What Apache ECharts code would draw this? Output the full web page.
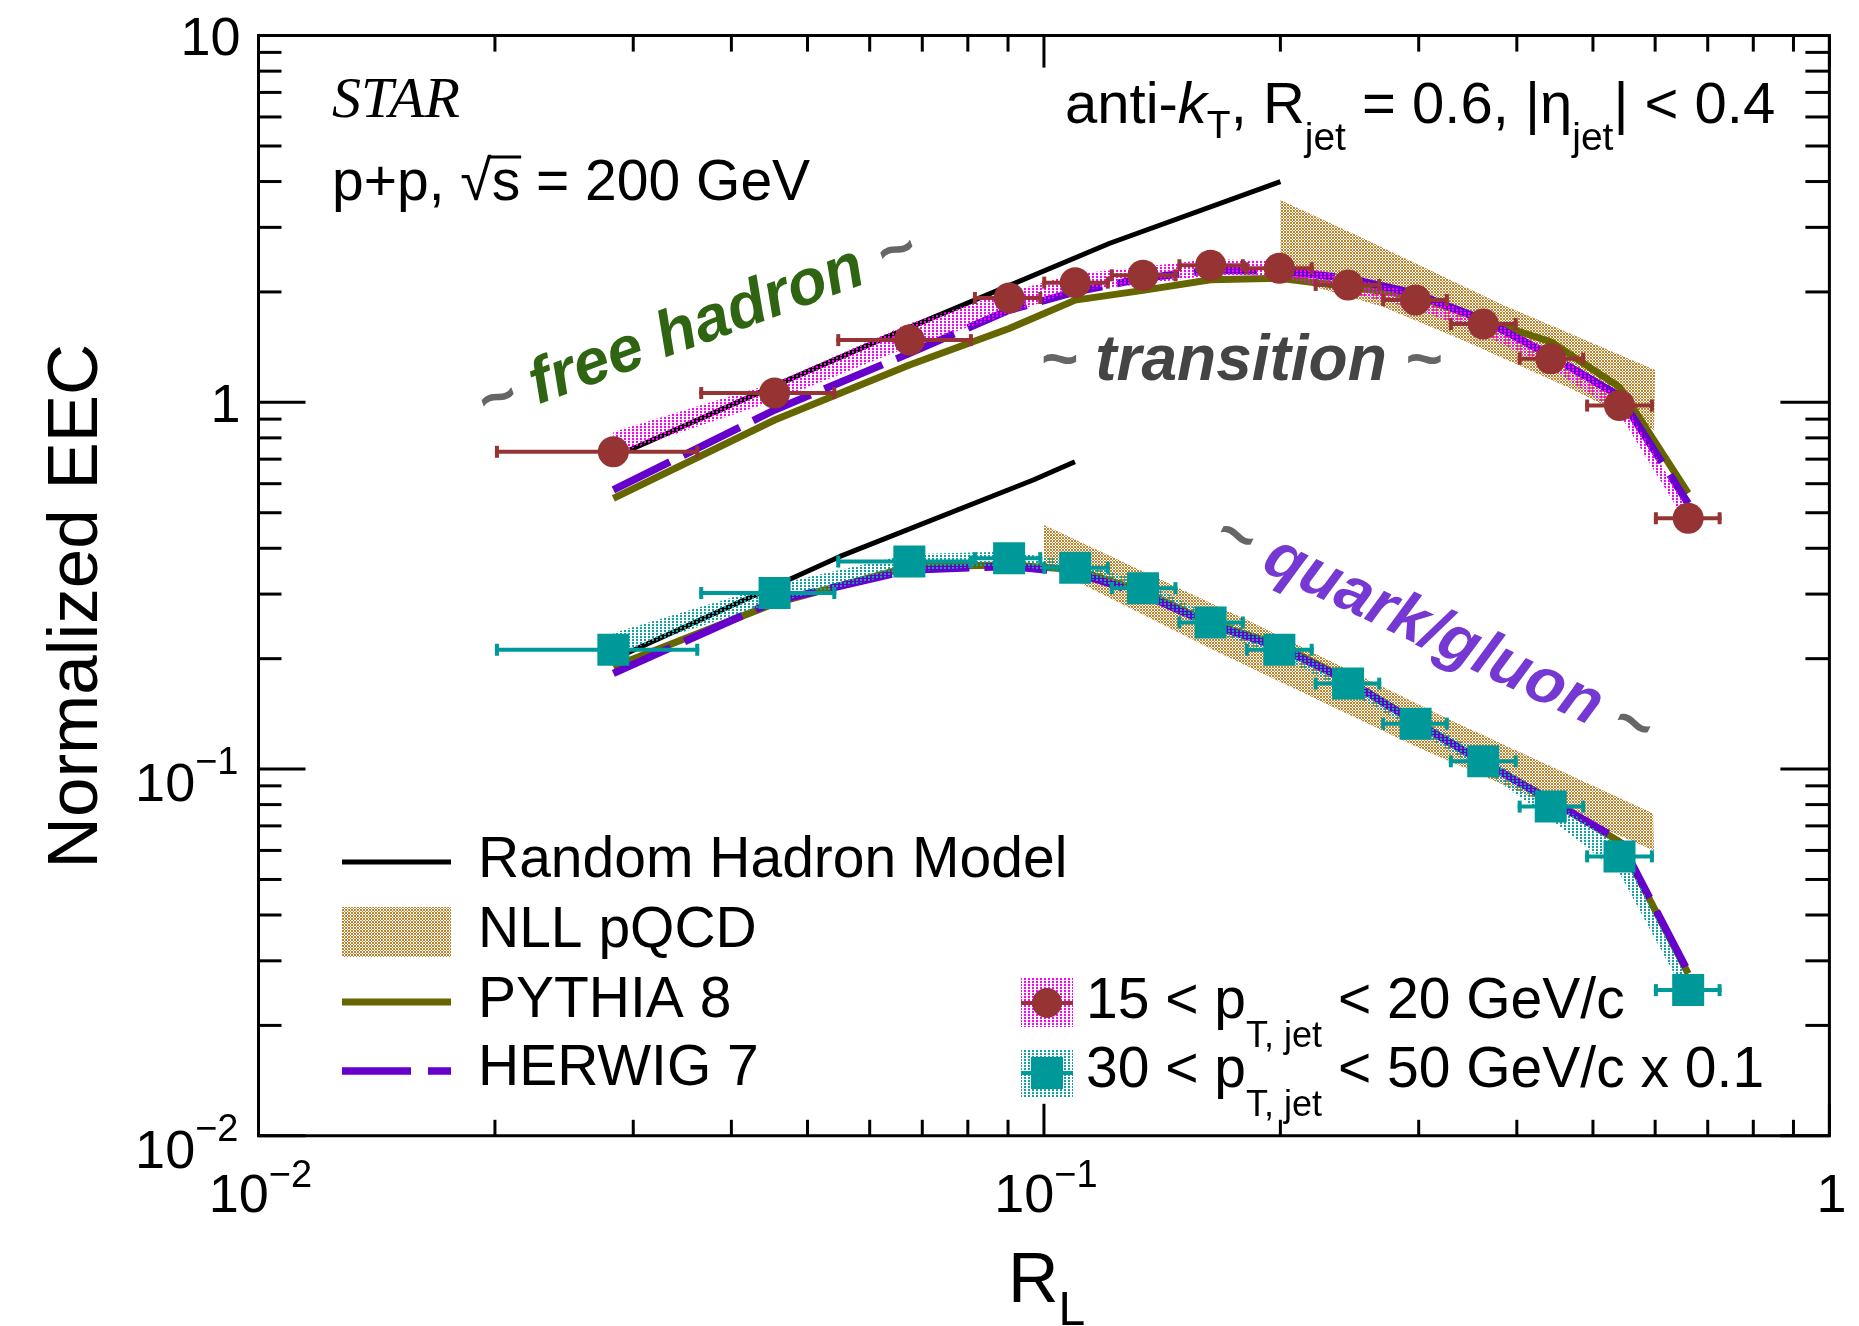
<!DOCTYPE html>
<html><head><meta charset="utf-8">
<script src="https://cdn.jsdelivr.net/npm/echarts@6.0.0/dist/echarts.min.js"></script>
<style>html,body{margin:0;padding:0;background:#fff}#c{width:1859px;height:1326px}</style>
</head><body><div id="c"></div>
<script>
// ---------------- data ----------------
const RL    = [0.0283, 0.0454, 0.0674, 0.0903, 0.1096, 0.1337, 0.163, 0.1994, 0.2439, 0.2973, 0.3625, 0.4418, 0.5405, 0.661];
const RL_LO = [0.0200, 0.0364, 0.0544, 0.0812, 0.0995, 0.1213, 0.1479, 0.1802, 0.2205, 0.2688, 0.3277, 0.401, 0.4887, 0.5978];
const RL_HI = [0.0364, 0.0544, 0.0812, 0.0995, 0.1213, 0.1479, 0.1802, 0.2205, 0.2688, 0.3277, 0.401, 0.4887, 0.5978, 0.729];
const EEC_15_20 = [0.733, 1.06, 1.478, 1.925, 2.12, 2.22, 2.365, 2.32, 2.09, 1.90, 1.635, 1.315, 0.98, 0.483];
const EEC_30_50 = [0.2115, 0.302, 0.368, 0.376, 0.354, 0.3114, 0.251, 0.2115, 0.171, 0.133, 0.105, 0.079, 0.0578, 0.02496];
const SYS_15_LO = [0.72, 1.01, 1.42, 1.74, 2.02, 2.10, 2.22, 2.20, 1.99, 1.80, 1.53, 1.24, 0.93, 0.46];
const SYS_15_HI = [0.83, 1.13, 1.64, 2.00, 2.24, 2.34, 2.46, 2.42, 2.19, 1.99, 1.71, 1.39, 1.04, 0.51];
const SYS_30_LO = [0.205, 0.285, 0.345, 0.36, 0.34, 0.297, 0.24, 0.202, 0.163, 0.127, 0.099, 0.073, 0.052, 0.0235];
const SYS_30_HI = [0.235, 0.318, 0.385, 0.392, 0.368, 0.325, 0.262, 0.221, 0.178, 0.139, 0.11, 0.083, 0.062, 0.0265];

const PYTHIA_15 = [0.547, 0.895, 1.264, 1.59, 1.90, 2.02, 2.16, 2.18, 2.067, 1.95, 1.677, 1.463, 1.10, 0.565];
const HERWIG_15 = [0.577, 0.953, 1.36, 1.785, 2.0, 2.18, 2.29, 2.28, 2.18, 1.98, 1.68, 1.34, 1.04, 0.53];
const PYTHIA_30 = [0.190, 0.283, 0.356, 0.36, 0.350, 0.305, 0.25, 0.218, 0.1748, 0.1346, 0.1047, 0.0823, 0.0634, 0.0277];
const HERWIG_30 = [0.1824, 0.287, 0.349, 0.357, 0.343, 0.300, 0.248, 0.215, 0.174, 0.134, 0.1045, 0.082, 0.064, 0.028];

const RHM_15_X = [0.0297, 0.045, 0.0637, 0.1213, 0.2];
const RHM_15_Y = [0.741, 1.10, 1.52, 2.715, 4.0];
const RHM_30_X = [0.0291, 0.055, 0.0969, 0.1095];
const RHM_30_Y = [0.2047, 0.38, 0.614, 0.689];

const NLL_15_TOP_X = [0.2, 0.2575, 0.3805, 0.6];
const NLL_15_TOP   = [3.56, 2.77, 1.86, 1.225];
const NLL_15_BOT_X = [0.2, 0.27, 0.345, 0.463, 0.598];
const NLL_15_BOT   = [2.2, 1.823, 1.462, 1.103, 0.84];
const NLL_30_TOP_X = [0.1, 0.183, 0.329, 0.5965];
const NLL_30_TOP   = [0.463, 0.2525, 0.136, 0.0757];
const NLL_30_BOT_X = [0.1, 0.1178, 0.1646, 0.298, 0.598];
const NLL_30_BOT   = [0.36, 0.302, 0.211, 0.115, 0.060];

const X_MAJOR = [0.01, 0.1, 1];
const X_MINOR = [0.02,0.03,0.04,0.05,0.06,0.07,0.08,0.09,0.2,0.3,0.4,0.5,0.6,0.7,0.8,0.9];
const Y_MAJOR = [0.01, 0.1, 1, 10];
const Y_MINOR = [0.02,0.03,0.04,0.05,0.06,0.07,0.08,0.09,0.2,0.3,0.4,0.5,0.6,0.7,0.8,0.9,2,3,4,5,6,7,8,9];
const X_LABEL_BASE = ['10', '10', '1'];
const X_LABEL_EXP  = ['\u22122', '\u22121', ''];
const Y_LABEL_BASE = ['10', '10', '1', '10'];
const Y_LABEL_EXP  = ['\u22122', '\u22121', '', ''];

// ---------------- styles ----------------
const RED = '#963434', TEAL = '#009999', OLIVE = '#666600', PURPLE = '#6600cc';
const SANS = '"Liberation Sans", Arial, Helvetica, sans-serif';
const SERIF = '"Liberation Serif", "Times New Roman", serif';

function pattern(color, w, h, rects) {
  const c = document.createElement('canvas'); c.width = w; c.height = h;
  const g = c.getContext('2d'); g.fillStyle = color;
  rects.forEach(r => g.fillRect(r[0], r[1], r[2], r[3]));
  return { image: c, repeat: 'repeat' };
}
const PAT_NLL = pattern('#c08228', 3, 3, [[0,0,2,2],[2,2,1,1]]);
const PAT_MAG = pattern('#ff00ff', 4, 3, [[0,0,2,2]]);
const PAT_CYAN = pattern('#11a3a3', 4, 3, [[0,0,2,2]]);

const mctx = document.createElement('canvas').getContext('2d');
function fontStr(p) { return (p.italic ? 'italic ' : '') + (p.bold ? 'bold ' : '') + p.size + 'px ' + (p.family || SANS); }
function measure(t, p) { mctx.font = fontStr(p); mctx.textBaseline = 'alphabetic'; return mctx.measureText(t).width; }
function baseOff(p) {
  mctx.font = fontStr(p); mctx.textBaseline = 'middle';
  const m = mctx.measureText('H'); mctx.textBaseline = 'alphabetic';
  return (m.actualBoundingBoxDescent !== undefined) ? m.actualBoundingBoxDescent : 0.35 * p.size;
}
function txt(t, x, y, p, extra) {
  return Object.assign({ type: 'text', x: x, y: y, z: 100, silent: true,
    style: { text: t, font: fontStr(p), fill: p.fill || '#000', textAlign: 'left', align: 'left',
             textVerticalAlign: 'middle', verticalAlign: 'middle' } }, extra || {});
}
// a run of text pieces on a common baseline
function run(parts, x0, baseY, align, out) {
  let total = 0;
  parts.forEach(p => { p.w = measure(p.t, p); total += p.w + (p.dx || 0); });
  let x = align === 'right' ? x0 - total : (align === 'center' ? x0 - total / 2 : x0);
  const pos = [];
  parts.forEach(p => {
    x += (p.dx || 0);
    out.push(txt(p.t, x, baseY + (p.dy || 0) - baseOff(p), p));
    pos.push([x, x + p.w]);
    x += p.w;
  });
  return pos;
}

// ---------------- chart ----------------
const chart = echarts.init(document.getElementById('c'), null, { renderer: 'canvas', width: 1859, height: 1326 });

function bandSeries(name, xsTop, top, xsBot, bot, pat, z) {
  return {
    type: 'custom', name: name, z: z, silent: true, clip: false,
    data: [[xsTop[0], top[0]]],
    renderItem: (params, api) => {
      const pts = [];
      for (let i = 0; i < xsTop.length; i++) pts.push(api.coord([xsTop[i], top[i]]));
      for (let i = xsBot.length - 1; i >= 0; i--) pts.push(api.coord([xsBot[i], bot[i]]));
      return { type: 'polygon', shape: { points: pts }, style: { fill: pat, stroke: null } };
    }
  };
}
function lineSeries(name, xs, ys, color, width, type, z) {
  return {
    type: 'line', name: name, z: z, silent: true, symbol: 'none', smooth: false,
    data: xs.map((x, i) => [x, ys[i]]),
    lineStyle: { color: color, width: width, type: type || 'solid', cap: 'butt', join: 'round' }
  };
}
function dataSeries(name, ys, color, marker) {
  return {
    type: 'custom', name: name, z: 20, silent: true, clip: false,
    data: RL.map((x, i) => [x, ys[i], RL_LO[i], RL_HI[i]]),
    encode: { x: 0, y: 1 },
    renderItem: (params, api) => {
      const x = api.value(0), y = api.value(1), lo = api.value(2), hi = api.value(3);
      const c = api.coord([x, y]), a = api.coord([lo, y]), b = api.coord([hi, y]);
      const st = { stroke: color, lineWidth: 4 };
      const ch = [
        { type: 'line', shape: { x1: a[0], y1: a[1], x2: b[0], y2: b[1] }, style: st },
        { type: 'line', shape: { x1: a[0] + 2, y1: a[1] - 6, x2: a[0] + 2, y2: a[1] + 6 }, style: st },
        { type: 'line', shape: { x1: b[0] - 2, y1: b[1] - 6, x2: b[0] - 2, y2: b[1] + 6 }, style: st }
      ];
      if (marker === 'circle') ch.push({ type: 'circle', shape: { cx: c[0], cy: c[1], r: 15.5 }, style: { fill: color } });
      else ch.push({ type: 'rect', shape: { x: c[0] - 16, y: c[1] - 16, width: 32, height: 32 }, style: { fill: color } });
      return { type: 'group', children: ch };
    }
  };
}

const option = {
  animation: false,
  backgroundColor: '#fff',
  grid: { left: 258.5, top: 35.6, width: 1570.9, height: 1100.2, show: false, containLabel: false },
  xAxis: { type: 'log', logBase: 10, min: 0.01, max: 1, axisLine: { show: false }, axisTick: { show: false },
           axisLabel: { show: false }, splitLine: { show: false } },
  yAxis: { type: 'log', logBase: 10, min: 0.01, max: 10, axisLine: { show: false }, axisTick: { show: false },
           axisLabel: { show: false }, splitLine: { show: false } },
  series: [
    bandSeries('NLL pQCD 15-20', NLL_15_TOP_X, NLL_15_TOP, NLL_15_BOT_X, NLL_15_BOT, PAT_NLL, 1),
    bandSeries('NLL pQCD 30-50', NLL_30_TOP_X, NLL_30_TOP, NLL_30_BOT_X, NLL_30_BOT, PAT_NLL, 1),
    lineSeries('Random Hadron Model 15-20', RHM_15_X, RHM_15_Y, '#000', 5, 'solid', 5),
    lineSeries('Random Hadron Model 30-50', RHM_30_X, RHM_30_Y, '#000', 5, 'solid', 5),
    lineSeries('PYTHIA 8 15-20', RL, PYTHIA_15, OLIVE, 7, 'solid', 6),
    lineSeries('PYTHIA 8 30-50', RL, PYTHIA_30, OLIVE, 7, 'solid', 6),
    lineSeries('HERWIG 7 15-20', RL, HERWIG_15, PURPLE, 7.5, [63, 15], 7),
    lineSeries('HERWIG 7 30-50', RL, HERWIG_30, PURPLE, 7.5, [63, 15], 7),
    bandSeries('sys 15-20', RL, SYS_15_HI, RL, SYS_15_LO, PAT_MAG, 8),
    bandSeries('sys 30-50', RL, SYS_30_HI, RL, SYS_30_LO, PAT_CYAN, 8),
    dataSeries('15 < pT,jet < 20 GeV/c', EEC_15_20, RED, 'circle'),
    dataSeries('30 < pT,jet < 50 GeV/c x 0.1', EEC_30_50, TEAL, 'square')
  ]
};
chart.setOption(option);

// ---------------- frame, ticks, labels (positions from the axes) ----------------
const P = (x, y) => chart.convertToPixel({ gridIndex: 0 }, [x, y]);
const g = [];
const [xL, yT] = P(0.01, 10), [xR, yB] = P(1, 0.01);
g.push({ type: 'rect', z: 50, silent: true, shape: { x: xL, y: yT, width: xR - xL, height: yB - yT },
         style: { fill: null, stroke: '#000', lineWidth: 3 } });
const tk = (x1, y1, x2, y2) => g.push({ type: 'line', z: 50, silent: true, shape: { x1, y1, x2, y2 }, style: { stroke: '#000', lineWidth: 3 } });
X_MAJOR.concat(X_MINOR).forEach(v => {
  const len = X_MAJOR.includes(v) ? 32 : 16; const px = P(v, 1)[0];
  tk(px, yB, px, yB - len); tk(px, yT, px, yT + len);
});
Y_MAJOR.concat(Y_MINOR).forEach(v => {
  const major = Y_MAJOR.includes(v); const py = P(0.01, v)[1];
  tk(xL, py, xL + (major ? 47 : 23), py); tk(xR, py, xR - (major ? 49 : 24), py);
});
const LBL = { size: 54 }, SUP = { size: 38 };
X_MAJOR.forEach((v, i) => {
  const px = P(v, 1)[0];
  const parts = [Object.assign({ t: X_LABEL_BASE[i] }, LBL)];
  if (X_LABEL_EXP[i]) parts.push(Object.assign({ t: X_LABEL_EXP[i], dy: -25 }, SUP));
  run(parts, px + 2, yB + 76, 'center', g);
});
Y_MAJOR.forEach((v, i) => {
  const py = P(0.01, v)[1];
  const parts = [Object.assign({ t: Y_LABEL_BASE[i] }, LBL)];
  if (Y_LABEL_EXP[i]) { parts.push(Object.assign({ t: Y_LABEL_EXP[i], dy: -27 }, SUP)); run(parts, xL - 20, py + 32, 'right', g); }
  else run(parts, xL - 18, py + 19.5, 'right', g);
});

// axis titles
g.push(txt('Normalized EEC', 0, 0, { size: 71 }, { x: 77, y: 606, rotation: Math.PI / 2,
  style: { text: 'Normalized EEC', font: fontStr({ size: 71 }), fill: '#000', textAlign: 'center', align: 'center', textVerticalAlign: 'middle', verticalAlign: 'middle' } }));
run([{ t: 'R', size: 70 }, { t: 'L', size: 48, dy: 23 }], 1008, 1302, 'left', g);

// header texts
run([{ t: 'STAR', size: 58, italic: true, family: SERIF }], 332, 117, 'left', g);
const pp = run([{ t: 'p+p, ', size: 57 }, { t: '\u221a', size: 57 }, { t: 's', size: 57 }, { t: ' = 200 GeV', size: 57 }], 332, 200, 'left', g);
g.push({ type: 'line', z: 100, silent: true, shape: { x1: pp[1][1] - 3, y1: 157, x2: pp[2][1] + 1, y2: 157 }, style: { stroke: '#000', lineWidth: 3 } });
run([{ t: 'anti-', size: 58 }, { t: 'k', size: 58, italic: true }, { t: 'T', size: 39, dy: 15 }, { t: ', R', size: 58 },
     { t: 'jet', size: 39, dy: 27 }, { t: ' = 0.6, |\u03b7', size: 58 }, { t: 'jet', size: 39, dy: 27 }, { t: '| < 0.4', size: 58 }],
    1065, 123, 'left', g);

// region annotations
function annot(text, color, cx, cy, deg) {
  return { type: 'text', x: cx, y: cy, rotation: deg * Math.PI / 180, z: 90, silent: true,
    style: { text: '{t|~} {g|' + text + '} {t|~}', font: fontStr({ size: 64, bold: true, italic: true }),
      textAlign: 'center', align: 'center', textVerticalAlign: 'middle', verticalAlign: 'middle',
      rich: { t: { fill: '#666666', font: fontStr({ size: 64, bold: true, italic: true }) },
              g: { fill: color, font: fontStr({ size: 64, bold: true, italic: true }) } } } };
}
g.push(annot('free hadron', '#2e6412', 697, 327, 20.3));
g.push(annot('transition', '#444444', 1241, 362, 0));
g.push(annot('quark/gluon', '#7538d2', 1433, 632, -25.3));

// legend (left)
g.push({ type: 'line', z: 100, shape: { x1: 342, y1: 862, x2: 451, y2: 862 }, style: { stroke: '#000', lineWidth: 5 } });
g.push({ type: 'rect', z: 100, shape: { x: 342, y: 907, width: 109, height: 50 }, style: { fill: PAT_NLL, stroke: null } });
g.push({ type: 'line', z: 100, shape: { x1: 342, y1: 1002, x2: 451, y2: 1002 }, style: { stroke: OLIVE, lineWidth: 7 } });
g.push({ type: 'line', z: 100, shape: { x1: 342, y1: 1071, x2: 451, y2: 1071 }, style: { stroke: PURPLE, lineWidth: 7.5, lineDash: [69, 17] } });
run([{ t: 'Random Hadron Model', size: 57 }], 478, 877, 'left', g);
run([{ t: 'NLL pQCD', size: 57 }], 478, 947, 'left', g);
run([{ t: 'PYTHIA 8', size: 57 }], 478, 1017, 'left', g);
run([{ t: 'HERWIG 7', size: 57 }], 478, 1085, 'left', g);

// legend (data)
g.push({ type: 'rect', z: 100, shape: { x: 1021, y: 978, width: 52, height: 49 }, style: { fill: PAT_MAG, stroke: null } });
g.push({ type: 'line', z: 101, shape: { x1: 1021, y1: 1003, x2: 1073, y2: 1003 }, style: { stroke: RED, lineWidth: 4 } });
g.push({ type: 'circle', z: 102, shape: { cx: 1047, cy: 1003, r: 15 }, style: { fill: RED } });
g.push({ type: 'rect', z: 100, shape: { x: 1021, y: 1050, width: 52, height: 47 }, style: { fill: PAT_CYAN, stroke: null } });
g.push({ type: 'line', z: 101, shape: { x1: 1021, y1: 1073, x2: 1073, y2: 1073 }, style: { stroke: TEAL, lineWidth: 4 } });
g.push({ type: 'rect', z: 102, shape: { x: 1031, y: 1057, width: 32, height: 32 }, style: { fill: TEAL } });
run([{ t: '15 < p', size: 57 }, { t: 'T, jet', size: 36, dy: 29 }, { t: ' < 20 GeV/c', size: 57 }], 1086, 1018, 'left', g);
run([{ t: '30 < p', size: 57 }, { t: 'T, jet', size: 36, dy: 29 }, { t: ' < 50 GeV/c x 0.1', size: 57 }], 1086, 1087, 'left', g);

chart.setOption({ graphic: { elements: g } });
</script>
</body></html>
